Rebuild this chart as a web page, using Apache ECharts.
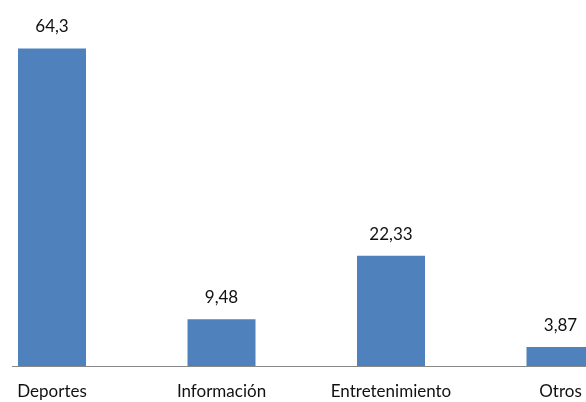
<!DOCTYPE html>
<html>
<head>
<meta charset="utf-8">
<script src="https://cdn.jsdelivr.net/npm/echarts@6/dist/echarts.min.js"></script>
<style>
  html, body { margin: 0; padding: 0; background: #fff; }
  #chart { width: 586px; height: 402px; }
</style>
</head>
<body>
<div id="chart"></div>
<script>
const categories = ['Deportes', 'Información', 'Entretenimiento', 'Otros'];
const values = [64.3, 9.48, 22.33, 3.87];

const chart = echarts.init(document.getElementById('chart'));
const font = 'Lato, "Open Sans", sans-serif';

chart.setOption({
  animation: false,
  grid: {
    left: -32.75, right: -59.25, top: 20.3, bottom: 36,
    containLabel: false,
    outerBoundsMode: 'none'
  },
  xAxis: {
    type: 'category',
    data: categories,
    axisLine: { show: false },
    axisTick: { show: false },
    axisLabel: {
      interval: 0,
      margin: 17,
      color: '#111',
      fontFamily: font,
      fontSize: 17
    }
  },
  yAxis: {
    type: 'value',
    min: 0,
    max: 70,
    show: false,
    splitLine: { show: false }
  },
  series: [{
    type: 'bar',
    data: values,
    barWidth: 68,
    itemStyle: { color: '#4F81BD' },
    label: {
      show: true,
      position: 'top',
      distance: 13,
      color: '#111',
      fontFamily: font,
      fontSize: 17,
      formatter: p => String(p.value).replace('.', ',')
    }
  }],
  graphic: [{
    type: 'line',
    shape: { x1: 12, y1: 366.5, x2: 586, y2: 366.5 },
    style: { stroke: '#888', lineWidth: 1 }
  }]
});
</script>
</body>
</html>
